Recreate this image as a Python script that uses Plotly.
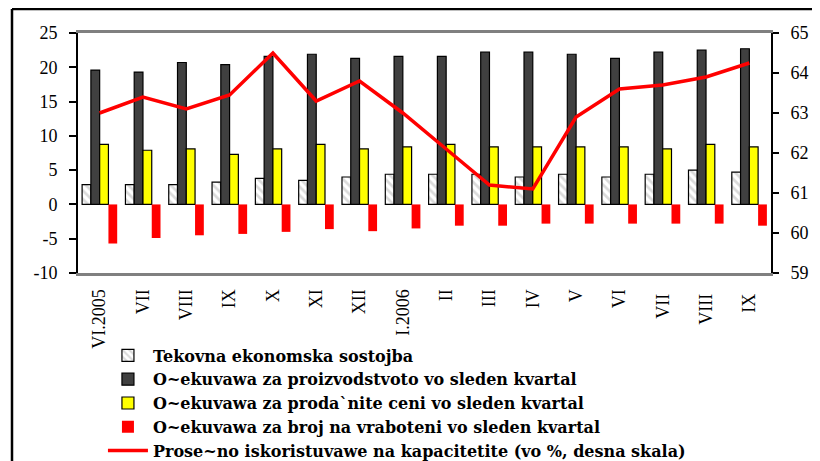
import plotly.graph_objects as go

months = ["VI.2005", "VII", "VIII", "IX", "X", "XI", "XII", "I.2006",
          "II", "III", "IV", "V", "VI", "VII ", "VIII ", "IX "]

tekovna = [2.9, 2.9, 2.9, 3.25, 3.8, 3.5, 4.0, 4.4,
           4.4, 4.4, 4.0, 4.4, 4.0, 4.4, 5.0, 4.7]
proizvodstvo = [19.6, 19.3, 20.7, 20.4, 21.6, 21.9, 21.3, 21.6,
                21.6, 22.2, 22.2, 21.9, 21.3, 22.2, 22.5, 22.7]
ceni = [8.75, 7.9, 8.1, 7.3, 8.1, 8.75, 8.1, 8.4,
        8.75, 8.4, 8.4, 8.4, 8.4, 8.1, 8.75, 8.4]
vraboteni = [-5.7, -4.9, -4.5, -4.3, -4.0, -3.6, -3.9, -3.5,
             -3.1, -3.1, -2.8, -2.8, -2.8, -2.8, -2.8, -3.1]
kapacitet = [63.0, 63.4, 63.1, 63.45, 64.5, 63.3, 63.8, 63.0,
             62.1, 61.2, 61.1, 62.9, 63.6, 63.7, 63.9, 64.25]

left_ticks = [-10, -5, 0, 5, 10, 15, 20, 25]
left_tick_labels = ["-10", "-5", "0", "5", "10", "15", "20", "25"]
right_ticks = [59, 60, 61, 62, 63, 64, 65]

names = ["Tekovna ekonomska sostojba",
         "O~ekuvawa za proizvodstvoto vo sleden kvartal",
         "O~ekuvawa za proda`nite ceni vo sleden kvartal",
         "O~ekuvawa za broj na vraboteni vo sleden kvartal",
         "Prose~no iskoristuvawe na kapacitetite (vo %, desna skala)"]

SERIF = "Liberation Serif"

fig = go.Figure()
fig.add_trace(go.Bar(
    x=months, y=tekovna, name=names[0],
    marker=dict(color="white", line=dict(color="black", width=1.2),
                pattern=dict(shape="\\", fgcolor="#b5b5b5", bgcolor="white",
                             size=6, solidity=0.45)),
))
fig.add_trace(go.Bar(
    x=months, y=proizvodstvo, name=names[1],
    marker=dict(color="#404040", line=dict(color="black", width=1.2)),
))
fig.add_trace(go.Bar(
    x=months, y=ceni, name=names[2],
    marker=dict(color="#ffff00", line=dict(color="black", width=1.2)),
))
fig.add_trace(go.Bar(
    x=months, y=vraboteni, name=names[3],
    marker=dict(color="#ff0000", line=dict(width=0)),
))
fig.add_trace(go.Scatter(
    x=months, y=kapacitet, name=names[4], yaxis="y2",
    mode="lines", line=dict(color="#ff0000", width=3.5),
))

tick_font = dict(family=SERIF, size=18, color="black")

# the page body adds an 8px offset, so margins are trimmed accordingly
fig.update_layout(
    width=820, height=461,
    margin=dict(l=70, r=57, t=25, b=196, autoexpand=False),
    paper_bgcolor="white", plot_bgcolor="white",
    barmode="group", bargap=0.19, bargroupgap=0,
    showlegend=True,
    legend=dict(x=0.036, y=-0.273, xanchor="left", yanchor="top",
                font=dict(family="DejaVu Serif", size=16, color="black",
                          weight="bold"),
                tracegroupgap=0, itemwidth=40, bgcolor="rgba(0,0,0,0)"),
    xaxis=dict(type="category", range=[-0.5, len(months) - 0.5],
               tickangle=-90, ticks="", tickfont=tick_font,
               ticklabelstandoff=6,
               showline=True, linecolor="#808080", linewidth=3, mirror=True,
               showgrid=False, zeroline=False),
    xaxis2=dict(overlaying="x", anchor="free", position=10 / 35,
                range=[-0.5, len(months) - 0.5],
                tickvals=[i + 0.5 for i in range(len(months) - 1)],
                ticks="inside", ticklen=5, tickwidth=1.5, tickcolor="black",
                showticklabels=False, showline=True, linecolor="black",
                linewidth=2, showgrid=False, zeroline=False),
    yaxis=dict(range=[-10, 25], tickvals=left_ticks, ticktext=left_tick_labels,
               ticks="outside", ticklen=7,
               tickwidth=1.5, tickcolor="black", tickfont=tick_font,
               ticklabelstandoff=8,
               showline=True, linecolor="black", linewidth=2,
               showgrid=False, zeroline=False),
    yaxis2=dict(range=[59, 65], tickvals=right_ticks, overlaying="y",
                side="right",
                ticks="outside", ticklen=6, tickwidth=1.5, tickcolor="black",
                tickfont=tick_font, ticklabelstandoff=8,
                showline=True, linecolor="black", linewidth=2,
                showgrid=False, zeroline=False),
    shapes=[
        # outer frame (top and left edges visible in the crop)
        dict(type="line", xref="paper", yref="paper",
             x0=-66 / 693, x1=1.2, y0=1 + 24 / 240, y1=1 + 24 / 240,
             line=dict(color="black", width=2.5)),
        dict(type="line", xref="paper", yref="paper",
             x0=-66 / 693, x1=-66 / 693, y0=1 + 24 / 240, y1=-1.0,
             line=dict(color="black", width=2.5)),
    ],
)

fig.write_html("out.html")
